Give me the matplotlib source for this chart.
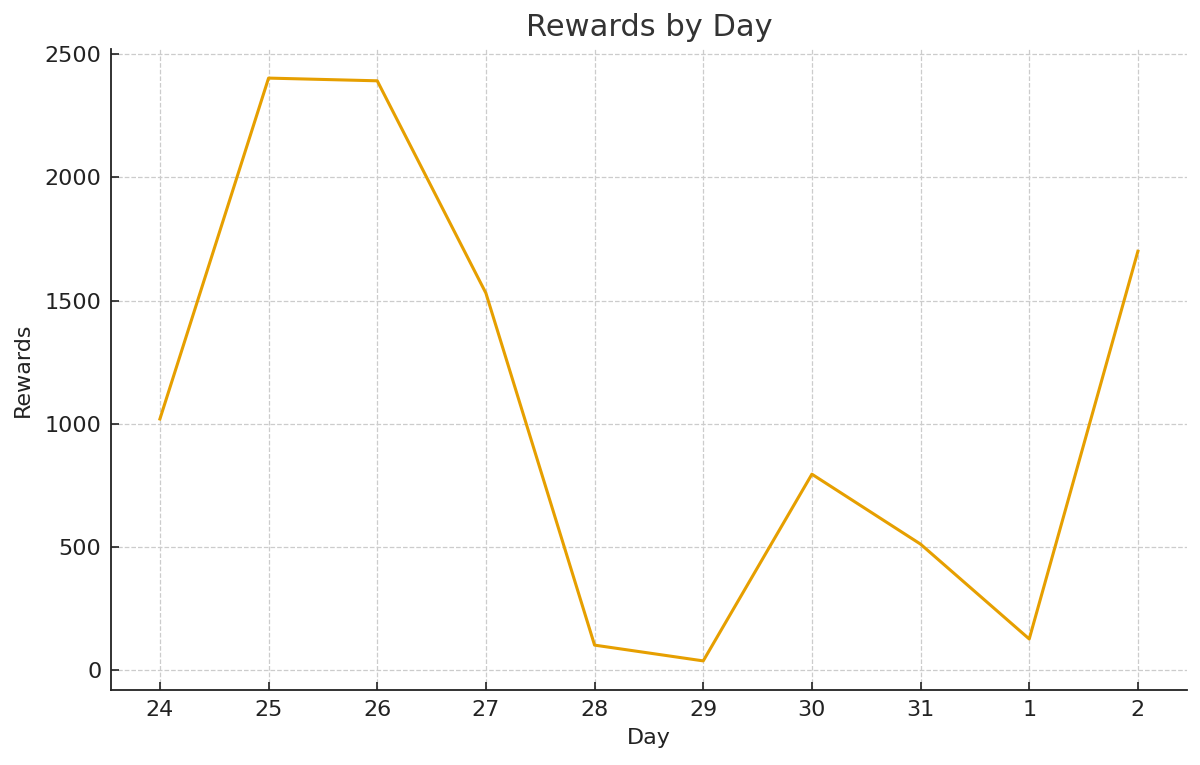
import matplotlib
matplotlib.use("Agg")
import matplotlib.pyplot as plt

# data
days = ["24", "25", "26", "27", "28", "29", "30", "31", "1", "2"]
rewards = [1019, 2403, 2392, 1530, 101, 37, 795, 511, 126, 1700]

fig = plt.figure(figsize=(12, 7.65), dpi=100)
ax = fig.add_axes([0.0925, 0.098, 0.8965, 0.838])

ax.plot(range(len(days)), rewards, color="#E69F00", linewidth=2.2)

ax.set_xticks(range(len(days)))
ax.set_xticklabels(days)
ax.set_yticks([0, 500, 1000, 1500, 2000, 2500])

ax.set_title("Rewards by Day", fontsize=22, color="#333333", pad=9)
ax.set_xlabel("Day", fontsize=16, color="#222222", labelpad=6)
ax.set_ylabel("Rewards", fontsize=16, color="#222222", labelpad=8)

ax.grid(True, linestyle="--", color="#cccccc", linewidth=0.9)
ax.set_axisbelow(True)
for side in ["top", "right"]:
    ax.spines[side].set_visible(False)
for side in ["left", "bottom"]:
    ax.spines[side].set_linewidth(1.3)
    ax.spines[side].set_color("#222222")
ax.tick_params(direction="in", length=6, width=1.2, labelsize=16,
               colors="#222222", pad=7)

fig.savefig("out.png", dpi=100)
